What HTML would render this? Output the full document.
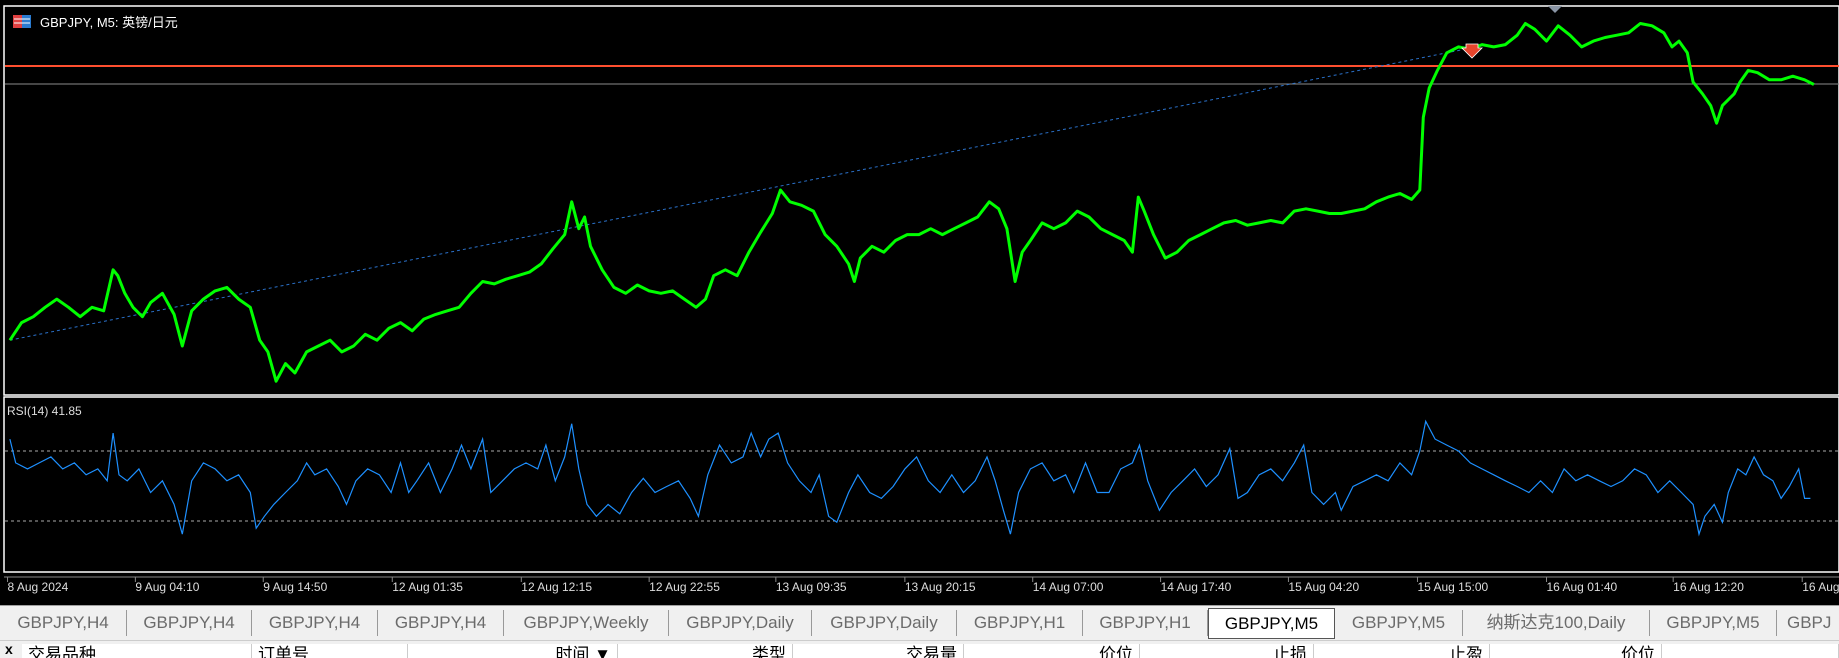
<!DOCTYPE html>
<html><head><meta charset="utf-8">
<style>
html,body{margin:0;padding:0;width:1839px;height:655px;overflow:hidden;background:#f0f0f0;font-family:"Liberation Sans","Noto Sans CJK SC",sans-serif;}
#chart{position:absolute;left:0;top:0;width:1839px;height:605px;background:#000;}
#tabs{position:absolute;left:0;top:605px;width:1839px;height:35px;background:#f0f0f0;border-top:1px solid #a0a0a0;}
.tab{position:absolute;top:4px;height:26px;line-height:26px;font-size:17px;color:#6b6b6b;text-align:center;border-right:1px solid #999;box-sizing:border-box;white-space:nowrap;overflow:hidden;}
.tab.active{background:#fff;color:#000;border:1px solid #555;top:2px;height:31px;line-height:30px;}
#hdr{position:absolute;left:0;top:640px;width:1839px;height:15px;background:#f0f0f0;border-top:1px solid #ccc;}
.col{position:absolute;top:3px;height:14px;background:#fff;border-right:1px solid #ccc;font-size:17px;line-height:22px;color:#000;overflow:hidden;box-sizing:border-box;padding:0 6px;}
</style></head><body>
<div id="chart">
<svg id="svg" width="1839" height="605" xmlns="http://www.w3.org/2000/svg">
 <rect x="4" y="6" width="1835" height="389" fill="#000" stroke="#fff" stroke-width="1.5"/>
 <rect x="4" y="397" width="1835" height="175" fill="#000" stroke="#fff" stroke-width="1.5"/>
 <line x1="4" y1="577" x2="1839" y2="577" stroke="#888"/>
 <line x1="5" y1="66" x2="1839" y2="66" stroke="#ff4f2f" stroke-width="2"/>
 <line x1="5" y1="84" x2="1839" y2="84" stroke="#8c8c8c" stroke-width="1"/>
 <line x1="5" y1="451" x2="1839" y2="451" stroke="#aaa" stroke-dasharray="3,3"/>
 <line x1="5" y1="521" x2="1839" y2="521" stroke="#aaa" stroke-dasharray="3,3"/>
 <g>
  <rect x="13" y="15" width="9" height="13" fill="#e04040"/><rect x="22" y="15" width="9" height="13" fill="#2a7bd0"/>
  <line x1="14" y1="19" x2="30" y2="19" stroke="#fff"/><line x1="14" y1="23" x2="30" y2="23" stroke="#fff"/>
 </g>
 <text x="40" y="27" fill="#fff" font-size="13">GBPJPY, M5: 英镑/日元</text>
 <text x="7" y="415" fill="#ddd" font-size="12">RSI(14) 41.85</text>
 <polygon points="1548,6 1562,6 1555,13" fill="#8a95a5"/>
 <g id="gTrend"></g><g id="gPrice"></g><g id="gRsi"></g><g id="gAxis"></g>
 <polygon points="1466,44 1478,44 1478,48 1482,48 1472,58 1462,48 1466,48" fill="#e8452c" stroke="#fff" stroke-width="0.8"/>
</svg>
</div>
<div id="tabs"></div>
<div id="hdr">
 <div style="position:absolute;left:5px;top:0;font-size:14px;font-weight:bold;">x</div>
</div>
<script>
// price data: bar index and price
const priceBars=[5,15,25,35,45,55,65,75,85,93,97,103,110,118,125,135,145,152,160,170,180,190,200,210,218,225,232,240,248,258,268,278,288,298,308,318,328,338,348,358,368,378,388,398,408,418,428,438,448,458,468,478,484,490,495,500,510,520,530,540,550,560,570,580,590,598,605,615,625,635,645,655,662,670,680,690,700,710,720,725,730,740,750,760,770,780,790,800,810,820,830,840,848,855,862,868,875,885,895,905,915,925,935,945,955,962,967,972,980,990,1000,1010,1020,1030,1040,1050,1060,1070,1080,1090,1100,1110,1120,1130,1140,1150,1160,1170,1180,1190,1200,1207,1210,1215,1222,1230,1240,1250,1260,1270,1280,1290,1297,1305,1315,1325,1335,1345,1355,1365,1375,1385,1395,1405,1415,1422,1428,1435,1440,1448,1455,1460,1465,1470,1475,1480,1487,1495,1505,1515,1525,1535,1543];
const priceVals=[187.10,187.25,187.30,187.38,187.45,187.38,187.30,187.38,187.35,187.70,187.65,187.50,187.38,187.30,187.42,187.50,187.32,187.05,187.35,187.45,187.52,187.55,187.45,187.38,187.10,187.00,186.75,186.90,186.82,187.00,187.05,187.10,187.00,187.05,187.15,187.10,187.20,187.25,187.18,187.28,187.32,187.35,187.38,187.50,187.60,187.58,187.62,187.65,187.68,187.75,187.88,188.00,188.28,188.05,188.15,187.90,187.70,187.55,187.50,187.57,187.52,187.50,187.52,187.45,187.38,187.45,187.65,187.70,187.65,187.85,188.02,188.18,188.38,188.28,188.25,188.20,188.00,187.90,187.75,187.60,187.80,187.90,187.85,187.95,188.00,188.00,188.05,188.00,188.05,188.10,188.15,188.28,188.22,188.05,187.60,187.85,187.95,188.10,188.05,188.10,188.20,188.15,188.05,188.00,187.95,187.85,188.32,188.20,188.00,187.80,187.85,187.95,188.00,188.05,188.10,188.12,188.08,188.10,188.12,188.10,188.20,188.22,188.20,188.18,188.18,188.20,188.22,188.28,188.32,188.35,188.30,188.38,189.00,189.25,189.40,189.55,189.60,189.58,189.62,189.60,189.62,189.70,189.80,189.75,189.65,189.78,189.70,189.60,189.65,189.68,189.70,189.72,189.80,189.78,189.72,189.60,189.65,189.55,189.30,189.20,189.10,188.95,189.10,189.15,189.20,189.30,189.40,189.38,189.32,189.32,189.35,189.32,189.28];
// RSI data
const rsiBars=[5,10,20,30,40,50,60,70,80,88,93,98,105,115,125,135,145,152,160,170,180,190,200,210,215,222,230,240,250,258,265,275,285,292,300,310,320,330,338,345,352,362,372,382,390,398,408,415,425,435,445,455,462,470,478,484,490,497,505,515,525,535,545,555,565,575,585,592,600,610,620,630,637,645,652,660,668,678,688,695,703,710,720,728,738,748,758,768,778,788,798,808,818,828,838,845,852,858,865,875,885,895,905,912,922,932,942,952,962,968,975,985,995,1005,1015,1025,1035,1045,1052,1060,1070,1080,1090,1100,1108,1115,1125,1135,1140,1150,1160,1170,1180,1190,1200,1207,1212,1220,1230,1240,1250,1260,1270,1280,1290,1300,1310,1320,1330,1340,1350,1360,1370,1380,1390,1400,1410,1420,1430,1440,1445,1450,1458,1465,1470,1478,1485,1492,1500,1508,1515,1522,1530,1535,1540];
const rsiVals=[76.8,63.2,59.8,63.2,66.6,59.8,63.2,56.4,59.8,53.0,80.2,56.4,53.0,59.8,46.3,53.0,39.5,22.5,53.0,63.2,59.8,53.0,56.4,46.3,25.9,32.7,39.5,46.3,53.0,63.2,56.4,59.8,49.7,39.5,53.0,59.8,56.4,46.3,63.2,46.3,53.0,63.2,46.3,59.8,73.4,59.8,76.8,46.3,53.0,59.8,63.2,59.8,73.4,53.0,66.6,85.6,59.8,39.5,32.7,39.5,34.1,46.3,54.4,46.3,49.7,53.0,42.9,32.7,56.4,73.4,63.2,66.6,80.2,66.6,76.8,80.2,63.2,53.0,46.3,56.4,32.7,29.3,46.3,56.4,46.3,42.9,49.7,59.8,66.6,53.0,46.3,56.4,46.3,53.0,66.6,53.0,36.1,22.5,46.3,59.8,63.2,53.0,56.4,46.3,63.2,46.3,46.3,59.8,63.2,73.4,53.0,36.1,46.3,53.0,59.8,49.7,56.4,71.4,42.9,46.3,56.4,59.8,53.0,63.2,73.4,46.3,39.5,46.3,36.1,49.7,53.0,56.4,53.0,63.2,56.4,70.0,87.0,76.8,73.4,70.0,63.2,59.8,56.4,53.0,49.7,46.3,53.0,46.3,59.8,53.0,56.4,53.0,49.7,53.0,59.8,56.4,46.3,53.0,46.3,39.5,22.5,32.7,39.5,29.3,46.3,59.8,56.4,66.6,56.4,53.0,42.9,49.7,59.8,42.9,42.9];
const timeLabels=["8 Aug 2024","9 Aug 04:10","9 Aug 14:50","12 Aug 01:35","12 Aug 12:15","12 Aug 22:55","13 Aug 09:35","13 Aug 20:15","14 Aug 07:00","14 Aug 17:40","15 Aug 04:20","15 Aug 15:00","16 Aug 01:40","16 Aug 12:20","16 Aug 23:00"];
const labelBars=[3,112,221,331,441,550,658,768,877,986,1095,1205,1315,1423,1533];
const trendStart=[5,187.10], trendEnd=[1255,189.60];

const NS="http://www.w3.org/2000/svg";
const xScale=i=>4+i*1.173;
const yPrice=p=>(190-p)*117.3;
const yRsi=v=>451+(70-v)*1.75;
function mk(tag,attrs,parent){const e=document.createElementNS(NS,tag);for(const k in attrs)e.setAttribute(k,attrs[k]);parent.appendChild(e);return e;}

const tl=mk('line',{x1:xScale(trendStart[0]),y1:yPrice(trendStart[1]),x2:xScale(trendEnd[0]),y2:yPrice(trendEnd[1]),stroke:'#2a70c8','stroke-dasharray':'3,3','stroke-width':1},document.getElementById('gTrend'));



const pp=mk('polyline',{points:priceBars.map((b,i)=>xScale(b).toFixed(1)+','+yPrice(priceVals[i]).toFixed(1)).join(' '),fill:'none',stroke:'#00ff00','stroke-width':3,'stroke-linejoin':'round'},document.getElementById('gPrice'));



const rp=mk('polyline',{points:rsiBars.map((b,i)=>xScale(b).toFixed(1)+','+yRsi(rsiVals[i]).toFixed(1)).join(' '),fill:'none',stroke:'#1e90ff','stroke-width':1.2},document.getElementById('gRsi'));



const ga=document.getElementById('gAxis');
timeLabels.forEach((t,i)=>{
  const x=xScale(labelBars[i]);
  const tk=mk('line',{x1:x,y1:577,x2:x,y2:582,stroke:'#888'},ga);
  
  
  const tx=mk('text',{x:x,y:591,fill:'#ddd','font-size':12,'font-family':'Liberation Sans, sans-serif'},ga);
  tx.textContent=t;
  
  
});

const tabNames=["GBPJPY,H4","GBPJPY,H4","GBPJPY,H4","GBPJPY,H4","GBPJPY,Weekly","GBPJPY,Daily","GBPJPY,Daily","GBPJPY,H1","GBPJPY,H1","GBPJPY,M5","GBPJPY,M5","纳斯达克100,Daily","GBPJPY,M5","GBPJ"];
const tabEdges=[0,127,252,378,504,669,812,957,1083,1208,1335,1463,1650,1777,1839];
const tabs=document.getElementById('tabs');
tabNames.forEach((n,i)=>{
  const d=document.createElement('div');
  d.className='tab'+(i===9?' active':'');
  d.style.left=tabEdges[i]+'px';d.style.width=(tabEdges[i+1]-tabEdges[i])+'px';
  if(i===13){d.style.textAlign='left';d.style.paddingLeft='10px';d.style.borderRight='none';}
  d.textContent=n;
  
  
  tabs.appendChild(d);
});

const cols=["交易品种","订单号","时间 ▼","类型","交易量","价位","止损","止盈","价位",""];
const colEdges=[22,252,408,618,793,964,1140,1314,1490,1662,1839];
const hdr=document.getElementById('hdr');
cols.forEach((c,i)=>{
  const d=document.createElement('div');
  d.className='col';
  d.style.left=colEdges[i]+'px';d.style.width=(colEdges[i+1]-colEdges[i])+'px';
  d.style.textAlign=i<2?'left':'right';
  d.textContent=c;
  
  
  hdr.appendChild(d);
});
</script>
</body></html>
